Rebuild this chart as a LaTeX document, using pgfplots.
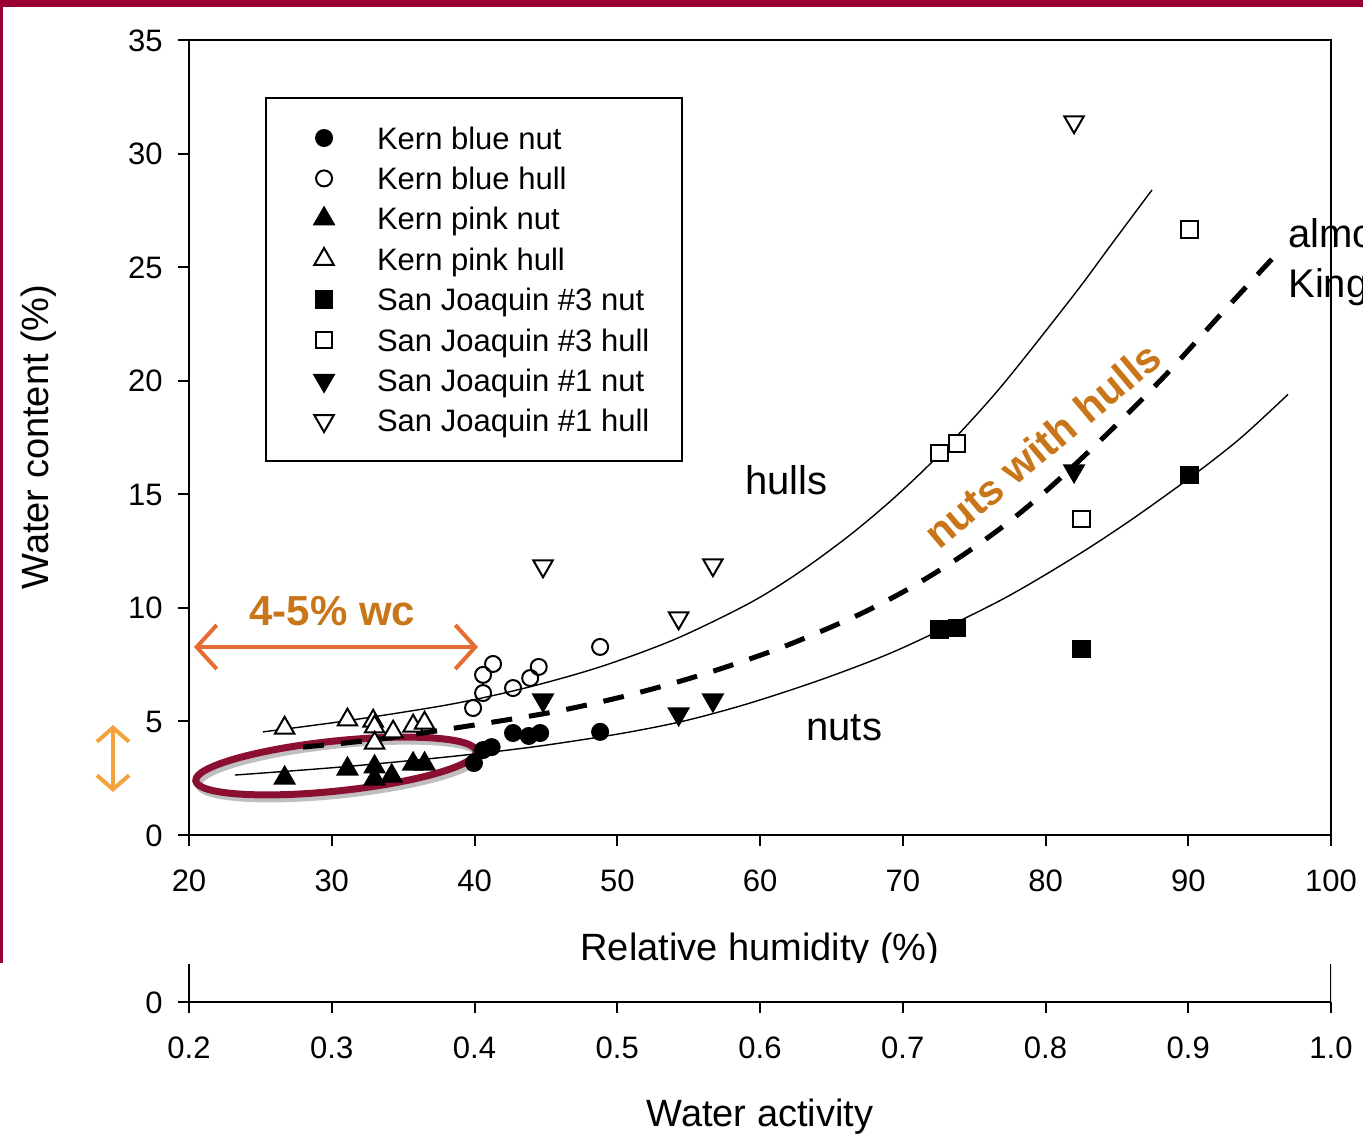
\documentclass[border=0pt]{standalone}
\usepackage{pgfplots}
\pgfplotsset{compat=1.18}
\usepackage{fontspec}
\setmainfont{Liberation Sans}
\usetikzlibrary{arrows.meta}
\definecolor{borderred}{RGB}{153,0,51}
\definecolor{ellred}{RGB}{139,15,48}
\definecolor{arrorange}{RGB}{230,108,50}
\definecolor{lightorange}{RGB}{244,162,60}
\definecolor{txtorange}{RGB}{200,118,25}
\newcommand\myfs[1]{\fontsize{#1}{#1}\selectfont}
\pgfplotsset{
  mk/.style={only marks, line width=1pt,
    legend image code/.code={\path[draw=none,fill=none] (0pt,-5.55pt) rectangle (20pt,5.55pt); \draw[##1,overlay] plot coordinates {(12.5pt,0pt)};}},
}
\begin{document}
\begin{tikzpicture}
\useasboundingbox (0,0) rectangle (681.5pt,-567pt);
% ellipse (behind data)
\draw[black!25, line width=3.5pt, rotate around={6:(169.5pt,-385pt)}] (169.5pt,-385pt) ellipse (70.5pt and 12.5pt);
\draw[ellred, line width=3.5pt, rotate around={6:(168pt,-383pt)}] (168pt,-383pt) ellipse (70.5pt and 12.5pt);
\begin{axis}[
  at={(94.5pt,-417.5pt)}, anchor=south west,
  scale only axis, width=571pt, height=397.5pt,
  xmin=20, xmax=100, ymin=0, ymax=35,
  xtick={20,30,...,100}, ytick={0,5,...,35},
  tick align=outside, tick pos=left,
  major tick length=5.5pt,
  axis line style={line width=1pt},
  every tick/.style={black, line width=1pt},
  tick label style={font=\myfs{15.5}},
  /pgf/number format/assume math mode=true,
  xticklabel style={anchor=north, inner sep=0pt, text height=11.1pt, text depth=0pt, yshift=-11.5pt},
  yticklabel style={anchor=east, inner sep=0pt, text height=11.1pt, text depth=0pt, xshift=-7.5pt},
  legend cell align=left,
  legend style={at={(rel axis cs:0.0666,0.9283)}, anchor=north west,
    font=\myfs{15.5}, line width=1pt, draw=black, fill=white,
    inner xsep=16.5pt, inner ysep=14.45pt, row sep=9.1pt, column sep=19pt,
    nodes={inner sep=0pt, text height=11.1pt, text depth=0pt}},
]
% fitted curves
\addplot[black, line width=0.7pt, smooth, forget plot] coordinates {
 (25.18,4.54) (31.28,5.05) (38.28,5.75) (43.54,6.47) (48.79,7.40) (54.05,8.62)
 (59.30,10.22) (62.80,11.59) (66.31,13.21) (69.46,14.88) (72.61,16.78)
 (76.81,19.68) (81.93,23.73) (84.52,25.92) (87.46,28.40)};
\addplot[black, line width=0.7pt, smooth, forget plot] coordinates {
 (23.22,2.64) (30.58,2.99) (38.28,3.45) (44.24,3.89) (50.19,4.46) (54.75,5.03)
 (59.30,5.81) (64.55,6.90) (69.81,8.19) (76.81,10.32) (81.93,12.20) (85.92,13.84)
 (90.12,15.73) (93.62,17.45) (96.99,19.40)};
\addplot[black, line width=2.5pt, smooth, dash pattern=on 10.5pt off 8.5pt, forget plot] coordinates {
 (27.99,3.87) (32.68,4.17) (37.30,4.58) (45.29,5.39) (50.89,6.17) (56.15,7.10)
 (61.40,8.23) (66.51,9.58) (70.16,10.75) (73.73,12.12) (77.16,13.65) (80.46,15.38)
 (84.52,17.78) (88.44,20.27) (92.22,22.88) (95.94,25.41)};
% data
\addplot[mk, mark=*, mark size=4pt, black] coordinates {
 (39.96,3.17) (40.6,3.74) (41.2,3.87) (42.7,4.49) (43.8,4.36) (44.6,4.49) (48.8,4.54)};
\addlegendentry{Kern blue nut}
\addplot[mk, mark=o, mark size=4pt, black] coordinates {
 (39.9,5.59) (40.6,6.25) (40.6,7.05) (41.3,7.53) (42.7,6.47) (43.9,6.91) (44.5,7.40) (48.8,8.28)};
\addlegendentry{Kern blue hull}
\addplot[mk, mark=triangle*, mark size=5.6pt, black] coordinates {
 (26.7,2.51) (31.1,2.91) (33.0,3.0) (33.0,2.47) (34.2,2.6) (35.7,3.13) (36.5,3.13)};
\addlegendentry{Kern pink nut}
\addplot[mk, mark=triangle*, mark size=5.6pt, black, mark options={fill=white}] coordinates {
 (26.7,4.71) (31.1,5.07) (32.9,5.02) (33.0,4.76) (33.0,4.05) (34.3,4.54) (35.7,4.80) (36.5,4.93)};
\addlegendentry{Kern pink hull}
\addplot[mk, mark=square*, mark size=4.2pt, black] coordinates {
 (72.6,9.03) (73.8,9.11) (82.5,8.19) (90.1,15.85)};
\addlegendentry{San Joaquin \#3 nut}
\addplot[mk, mark=square*, mark size=4.2pt, black, mark options={fill=white}] coordinates {
 (72.6,16.82) (73.8,17.22) (82.5,13.91) (90.1,26.64)};
\addlegendentry{San Joaquin \#3 hull}
\addplot[mk, mark=triangle*, mark size=5.6pt, black, mark options={rotate=180}] coordinates {
 (44.8,5.94) (54.3,5.33) (56.7,5.94) (82.0,16.03)};
\addlegendentry{San Joaquin \#1 nut}
\addplot[mk, mark=triangle*, mark size=5.6pt, black, mark options={rotate=180, fill=white}] coordinates {
 (44.8,11.84) (54.3,9.55) (56.7,11.89) (82.0,31.39)};
\addlegendentry{San Joaquin \#1 hull}
\end{axis}
\begin{scope}[x=0.5pt, y=-0.5pt]
\node[anchor=base west, font=\myfs{20}, inner sep=0pt] at (745,494) {hulls};
\node[anchor=base west, font=\myfs{20}, inner sep=0pt] at (806,740) {nuts};
\node[anchor=base west, font=\bfseries\myfs{21}, text=txtorange, inner sep=0pt] at (249,625) {4-5\% wc};
\node[rotate=40, font=\bfseries\myfs{21}, text=txtorange, inner sep=0pt] at (1042,445) {nuts with hulls};
\draw[arrorange, line width=2pt, {Straight Barb[length=10pt,width=22pt]}-{Straight Barb[length=10pt,width=22pt]}] (194,647) -- (478,647);
\draw[lightorange, line width=2pt, {Straight Barb[length=7pt,width=16pt]}-{Straight Barb[length=7pt,width=16pt]}] (113,725) -- (113,792);
\begin{scope}
\clip (0,0) rectangle (1363,1134);
\node[anchor=base west, font=\myfs{20}, inner sep=0pt] at (1288,248) {almonds};
\node[anchor=base west, font=\myfs{20}, inner sep=0pt] at (1288,297) {Kings};
\end{scope}
\node[anchor=base, font=\myfs{19}, inner sep=0pt] at (760,960) {Relative humidity (\%)};
\node[anchor=base, rotate=90, font=\myfs{19}, inner sep=0pt] at (48,437) {Water content (\%)};
\fill[white] (0,963) rectangle (1363,1134);
\fill[borderred] (0,0) rectangle (1363,7);
\fill[borderred] (0,0) rectangle (3,963);
\node[anchor=base, font=\myfs{19}, inner sep=0pt] at (760,1126) {Water activity};
\end{scope}
\begin{axis}[
  at={(94.5pt,-501pt)}, anchor=south west,
  scale only axis, width=571pt, height=19pt,
  xmin=0.2, xmax=1.0, ymin=0, ymax=1,
  xtick={0.2,0.3,0.4,0.5,0.6,0.7,0.8,0.9,1.0}, ytick={0},
  axis x line*=bottom, axis y line*=left,
  tick align=outside, major tick length=5.5pt,
  axis line style={line width=1pt},
  every tick/.style={black, line width=1pt},
  tick label style={font=\myfs{15.5}},
  /pgf/number format/assume math mode=true,
  xticklabel style={anchor=north, inner sep=0pt, text height=11.1pt, text depth=0pt, yshift=-11.5pt,
    /pgf/number format/.cd, fixed, fixed zerofill, precision=1},
  yticklabel style={anchor=east, inner sep=0pt, text height=11.1pt, text depth=0pt, xshift=-7.5pt},
]
\draw[line width=1pt] (rel axis cs:1,0) -- (rel axis cs:1,1);
\end{axis}
\end{tikzpicture}
\end{document}
